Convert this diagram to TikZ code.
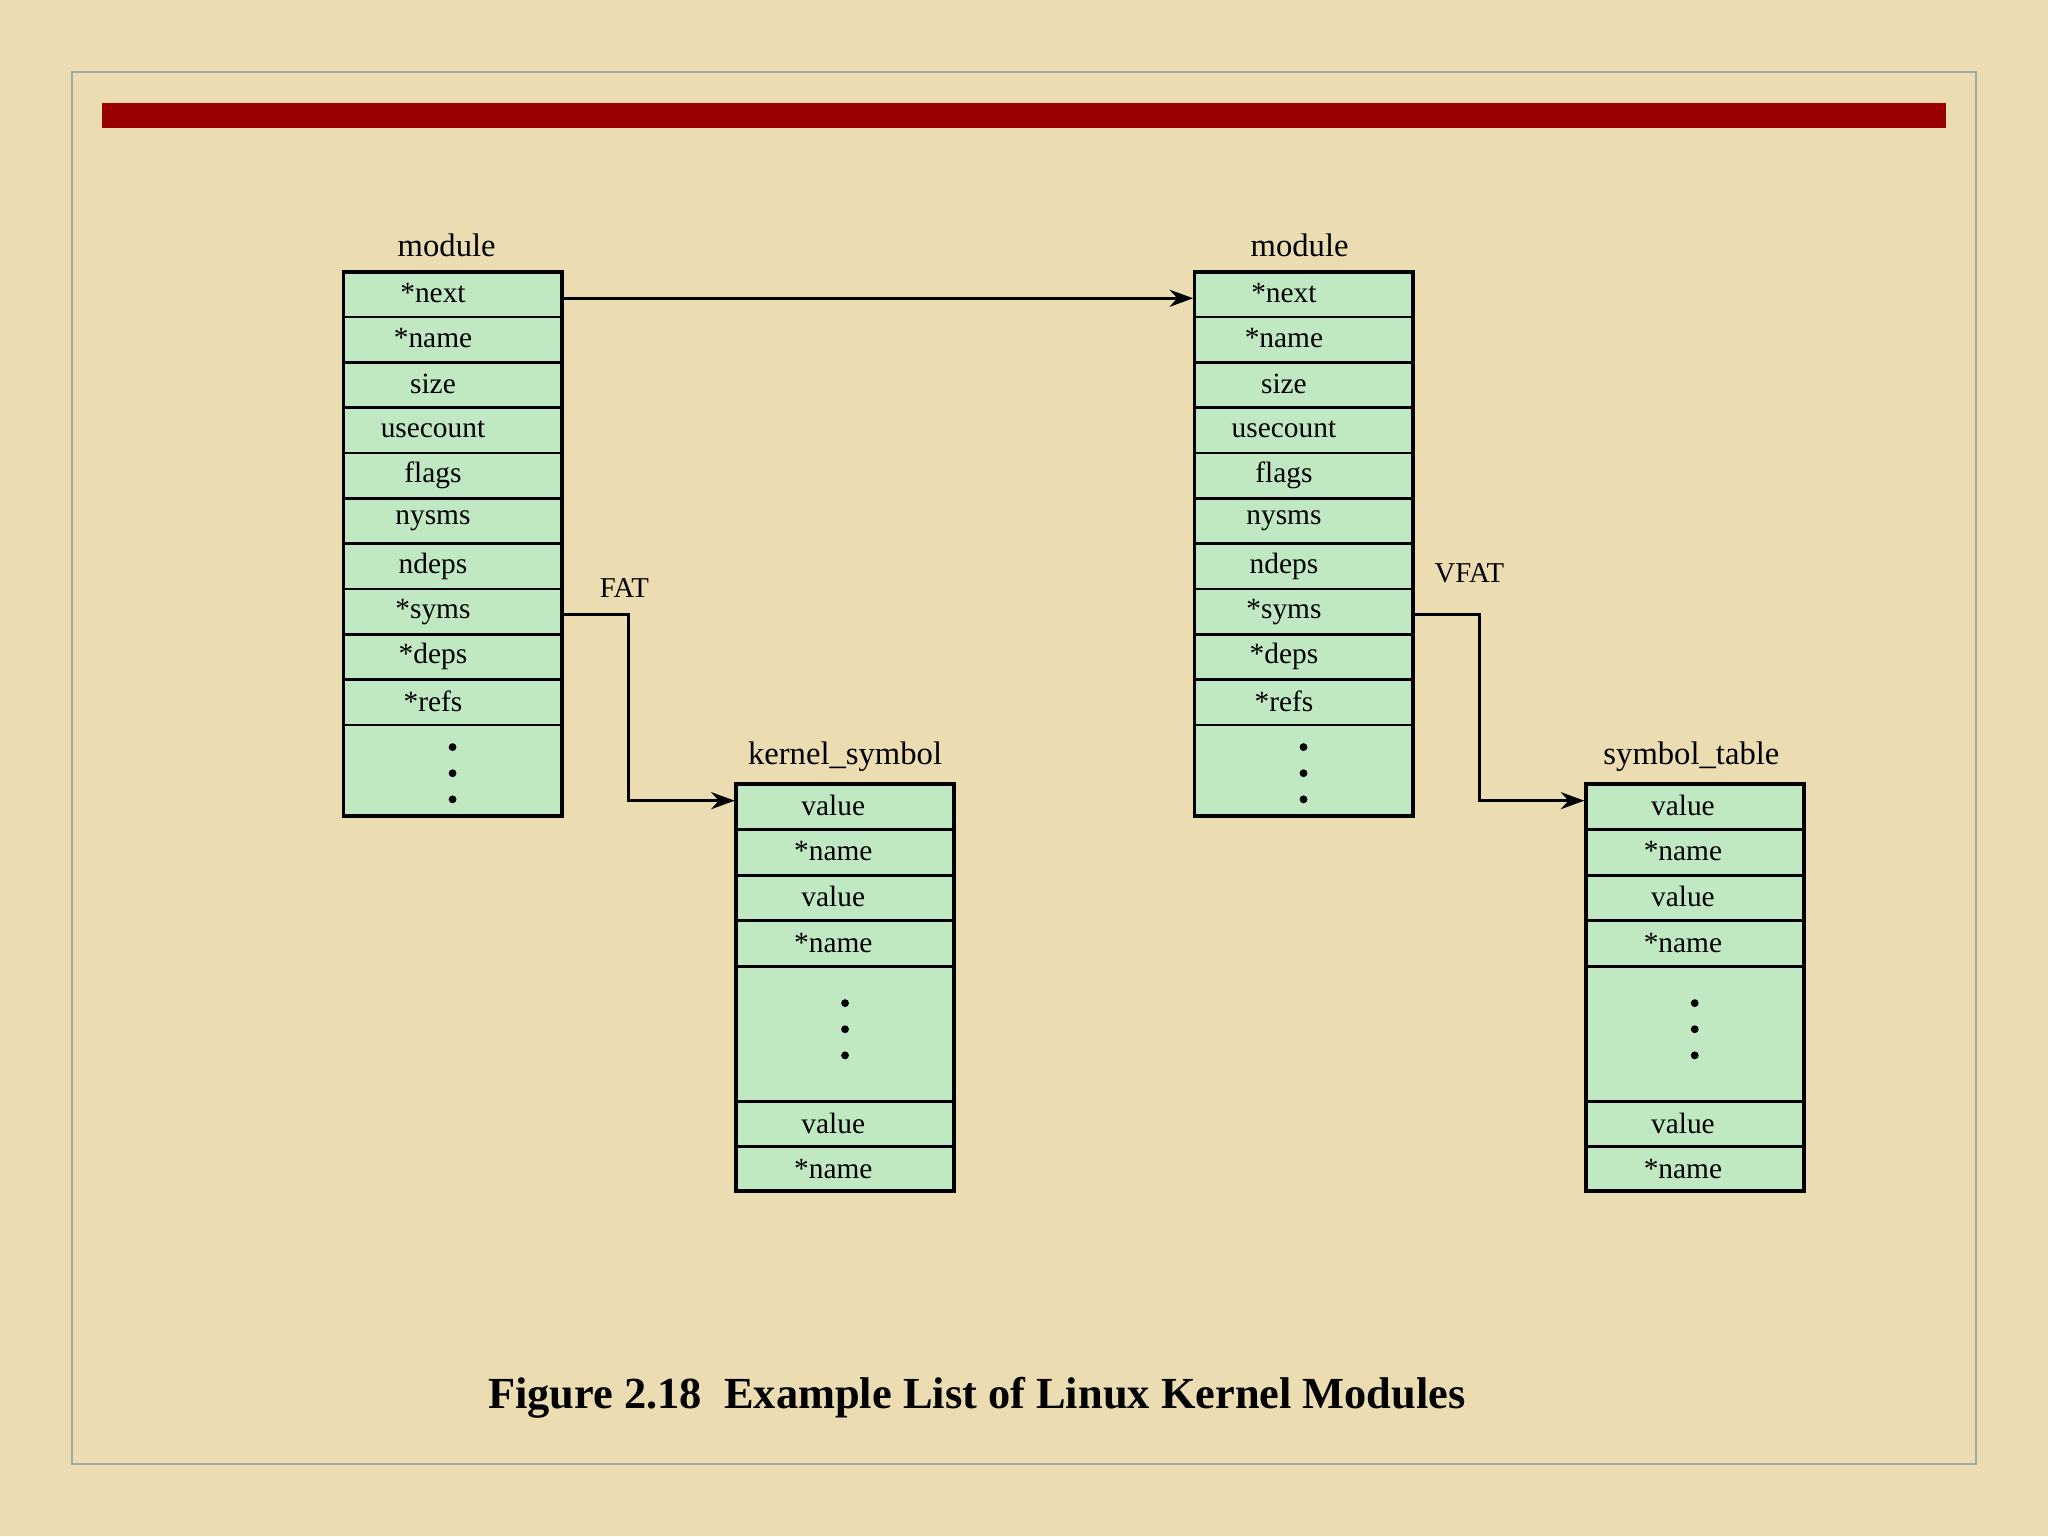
\documentclass[tikz,border=0pt]{standalone}
\usepackage{fontspec}
\setmainfont{Liberation Serif}
\usetikzlibrary{arrows.meta}
\definecolor{bg}{HTML}{EBDCB2}
\definecolor{cellg}{HTML}{C0E8C2}
\definecolor{barred}{HTML}{990000}
\tikzset{
 cell/.style={draw,line width=2pt,fill=cellg,minimum width=167pt,minimum height=34.7pt,inner sep=0pt,font=\fontsize{22.5}{25}\selectfont},
 ttl/.style={font=\fontsize{25}{28}\selectfont,inner sep=0pt},
 conn/.style={line width=2.5pt,-{Stealth[length=18pt,width=13pt]}},
 dotm/.style={fill=black,draw=none}
}
\begin{document}
\begin{tikzpicture}[x=1pt,y=-1pt]
\useasboundingbox (0,0) rectangle (1568,1176);
\fill[bg] (0,0) rectangle (1568,1176);
\draw[gray!70,line width=1.5pt] (55,55) rectangle (1513,1121);
\fill[barred] (78,79) rectangle (1490,98);
% modules
\foreach \p/\x in {l/346.5,r/998}{
 \foreach \t [count=\i] in {*next,*name,size,usecount,flags,nysms,ndeps,*syms,*deps,*refs}{
  \node[cell,text width=167pt,align=center] (\p\i) at (\x,{208+34.7*(\i-0.5)}) {\raisebox{2pt}{\hspace*{-30pt}\t}};
 }
 \node[cell,minimum height=70pt] (\p d) at (\x,590) {};
 \foreach \yy in {572,592,612} \fill[dotm] (\x,\yy) circle (3);
 \draw[line width=3pt] (\x-83.5,208) rectangle (\x+83.5,625);
}
\node[ttl] (lt) at (342,188) {module};
\node[ttl] (rt) at (995,188) {module};
% symbol tables
\foreach \p/\x in {k/647,s/1297.5}{
 \foreach \t [count=\i] in {value,*name,value,*name}{
  \node[cell,text width=167pt,align=center] (\p\i) at (\x,{600+35*(\i-0.5)}) {\raisebox{2pt}{\hspace*{-18pt}\t}};
 }
 \node[cell,minimum height=103pt] (\p d) at (\x,791.5) {};
 \foreach \yy in {768,788,808} \fill[dotm] (\x,\yy) circle (3);
 \node[cell,text width=167pt,align=center] (\p5) at (\x,860.5) {\hspace*{-18pt}value};
 \node[cell,text width=167pt,align=center] (\p6) at (\x,895) {\hspace*{-18pt}*name};
 \draw[line width=3pt] (\x-83.5,600) rectangle (\x+83.5,912);
}
\node[ttl] (kt) at (647,579) {kernel\_symbol};
\node[ttl] (st) at (1295,579) {symbol\_table};
% connectors
\draw[conn] ([yshift=-3pt]l1.east) -- ([yshift=-3pt]r1.west);
\draw[conn] ([yshift=-2pt]l8.east) -- ++(50,0) |- ([yshift=4.5pt]k1.west);
\draw[conn] ([yshift=-2pt]r8.east) -- ++(50,0) |- ([yshift=4.5pt]s1.west);
\node[ttl,font=\fontsize{22}{24}\selectfont] (fat) at (478,450) {FAT};
\node[ttl,font=\fontsize{22}{24}\selectfont] (vfat) at (1125,439) {VFAT};
\node[inner sep=0pt,font=\bfseries\fontsize{34}{38}\selectfont] (cap) at (748,1070) {Figure 2.18\ \ Example List of Linux Kernel Modules};
\end{tikzpicture}
\end{document}
